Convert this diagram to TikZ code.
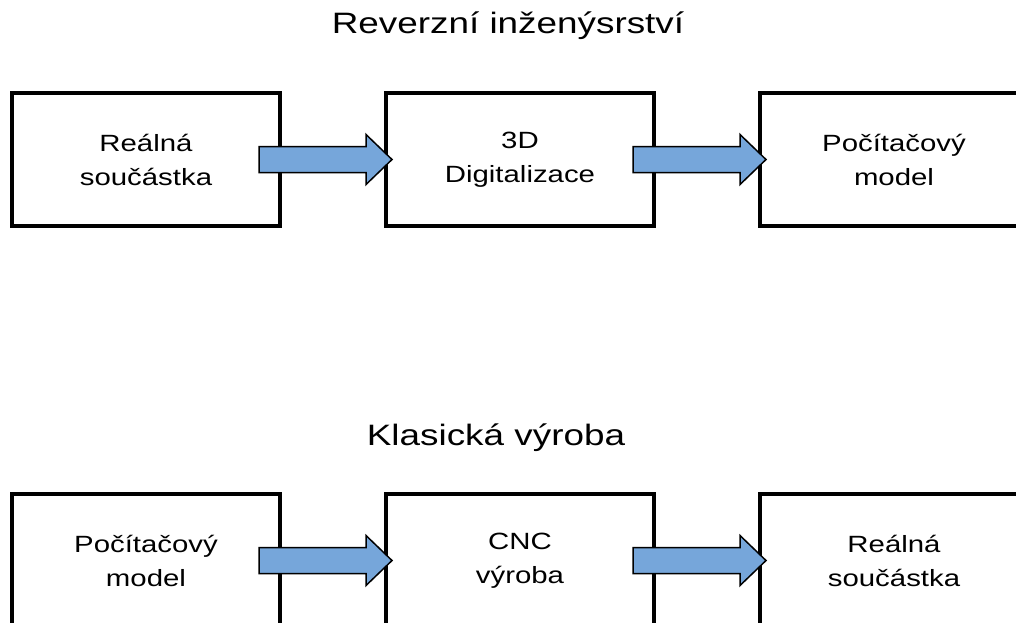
\documentclass[tikz,border=0pt]{standalone}
\usepackage{fontspec}
\setmainfont[FakeStretch=1.25]{Liberation Sans}
\usetikzlibrary{positioning,calc}

\definecolor{arrowblue}{RGB}{118,166,218}

\begin{document}
\begin{tikzpicture}[x=1pt, y=-1pt, node distance=106pt,
    box/.style={draw, line width=3.5pt, minimum width=268pt, minimum height=133pt,
                outer sep=0pt, inner sep=0pt, align=center,
                font=\fontsize{23.5}{34}\selectfont},
    title/.style={anchor=base, font=\fontsize{29.5}{34}\selectfont},
    fatarrow/.style={draw, line width=1.5pt, line join=miter, fill=arrowblue}]
    \useasboundingbox (0,0) rectangle (1016,622);
    \clip (0,0) rectangle (1016,622);

    % Titles
    \node [title] (trev) at (508,33)  {Reverzní inženýsrství};
    \node [title] (tcls) at (496,445) {Klasická výroba};

    % Nodes {reverse engineering}
    \node [box] (real)              at (146,159.5) {Reálná\\součástka};
    \node [box] (digi)  [right=of real]             {3D\\Digitalizace};
    \node [box] (model) [right=of digi]             {Počítačový\\model};

    % Nodes {classic production}
    \node [box] (cmodel)            at (146,560.5) {Počítačový\\model};
    \node [box] (cnc)   [right=of cmodel]           {CNC\\výroba};
    \node [box] (cpart) [right=of cnc]              {Reálná\\součástka};

    % Paths
    \foreach \a/\b in {real/digi, digi/model, cmodel/cnc, cnc/cpart}
        \draw [fatarrow] ($(\a.east)+(-21,-13)$) -- ($(\b.west)+(-20,-13)$)
            -- ($(\b.west)+(-20,-25)$) -- ($(\b.west)+(6,0)$)
            -- ($(\b.west)+(-20,25)$) -- ($(\b.west)+(-20,13)$)
            -- ($(\a.east)+(-21,13)$) -- cycle;

\end{tikzpicture}
\end{document}
